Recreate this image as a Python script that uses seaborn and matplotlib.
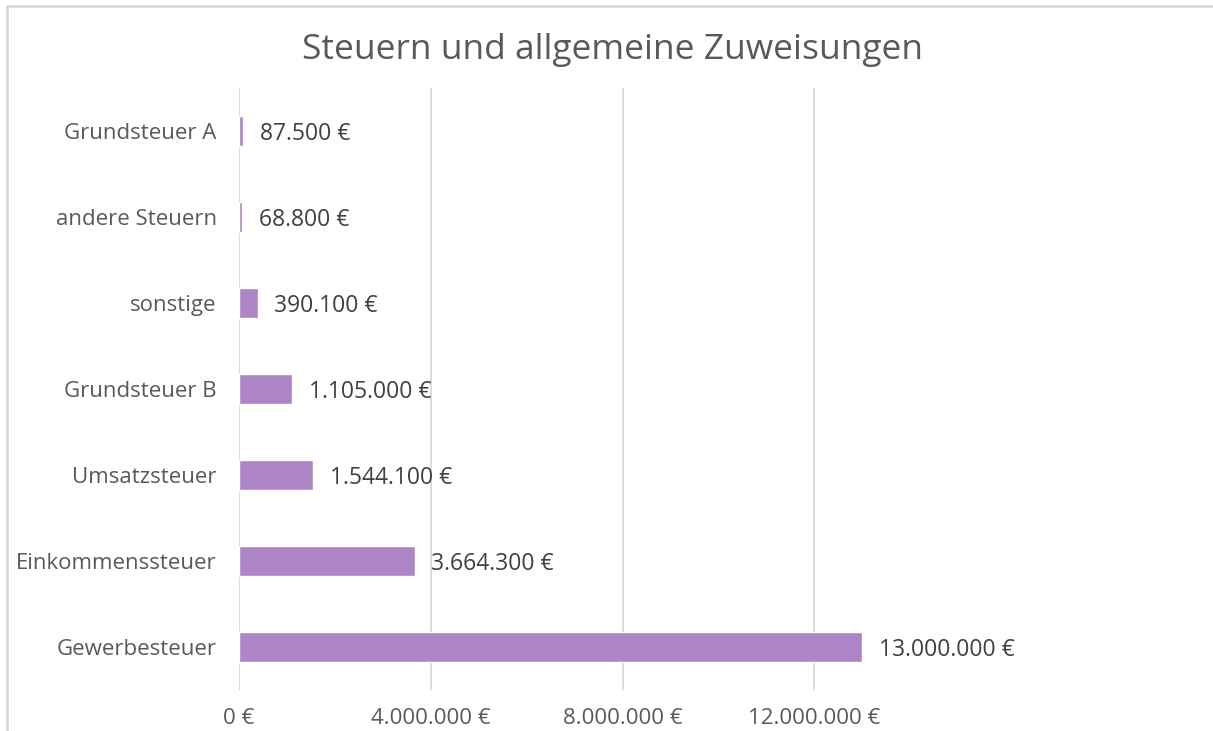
import matplotlib
matplotlib.use("Agg")
import pandas as pd
import seaborn as sns
import matplotlib.pyplot as plt
from matplotlib.lines import Line2D

# Daten (von oben nach unten wie im Diagramm)
kategorien = ['Grundsteuer A', 'andere Steuern', 'sonstige', 'Grundsteuer B',
              'Umsatzsteuer', 'Einkommenssteuer', 'Gewerbesteuer']
betraege = [87500, 68800, 390100, 1105000, 1544100, 3664300, 13000000]
x_ticks = [0, 4000000, 8000000, 12000000]

df = pd.DataFrame({'Kategorie': kategorien, 'Betrag': betraege})


def euro(v):
    return f"{v:,.0f} €".replace(",", ".")


sns.set_theme(style="white")
plt.rcParams['font.family'] = ['Open Sans', 'DejaVu Sans']

grau = '#595959'
lila = '#AD84C6'

fig = plt.figure(figsize=(12.13, 7.31), dpi=100)
ax = fig.add_axes([239 / 1213, 41 / 731, 767 / 1213, 602 / 731])

sns.barplot(data=df, x='Betrag', y='Kategorie', color=lila, width=0.36,
            saturation=1, ax=ax, zorder=3)

ax.set_xlim(0, 16000000)
ax.set_xticks(x_ticks)
ax.set_xticklabels([euro(t) for t in x_ticks])
ax.grid(axis='x', color='#D9D9D9', linewidth=1.3, zorder=0)
ax.set_xlabel('')
ax.set_ylabel('')
for s in ax.spines.values():
    s.set_visible(False)
ax.tick_params(axis='both', length=0, colors=grau, labelsize=16)
ax.tick_params(axis='x', pad=13)
ax.tick_params(axis='y', pad=16)

# Wertebeschriftungen
for cont in ax.containers:
    txts = ax.bar_label(cont, labels=[euro(v) for v in betraege], padding=12,
                        color='#404040', fontsize=16.5, clip_on=False)
    for t in txts:
        t.set_va('center_baseline')

fig.text(0.505, 1 - 50 / 731, 'Steuern und allgemeine Zuweisungen',
         ha='center', va='center', fontsize=25.5, color=grau)

# Rahmen des Diagrammbereichs (links und oben sichtbar)
fig.add_artist(Line2D([7 / 1213, 7 / 1213], [0, 1 - 6 / 731],
                      transform=fig.transFigure, color='#D9D9D9', linewidth=2))
fig.add_artist(Line2D([7 / 1213, 1], [1 - 6 / 731, 1 - 6 / 731],
                      transform=fig.transFigure, color='#D9D9D9', linewidth=2))

fig.savefig('out.png', dpi=100, facecolor='white')
